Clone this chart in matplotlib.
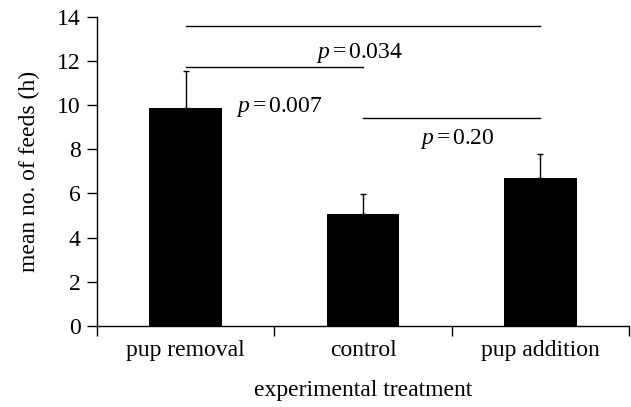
import matplotlib
matplotlib.use("Agg")
import matplotlib.pyplot as plt
import numpy as np

categories = ["pup removal", "control", "pup addition"]
means = [9.85, 5.05, 6.7]
err_upper = [1.7, 0.92, 1.1]
yticks = [0, 2, 4, 6, 8, 10, 12, 14]

# comparisons: (i, j, line height, p label)
comparisons = [(0, 2, 13.57, "0.034"), (0, 1, 11.74, "0.007"), (1, 2, 9.43, "0.20")]
label_pos = [(0.98, 12.35), (0.53, 9.9), (1.53, 8.45)]

plt.rcParams['font.family'] = ['Liberation Serif', 'DejaVu Serif']
plt.rcParams['mathtext.fontset'] = 'custom'
plt.rcParams['mathtext.it'] = 'Liberation Serif:italic'
plt.rcParams['mathtext.rm'] = 'Liberation Serif'

FS = 17
fig = plt.figure(figsize=(6.31, 4.07), dpi=100)
ax = fig.add_axes([0.154, 0.199, 0.843, 0.760])

x = np.arange(len(categories))
ax.bar(x, means, width=0.41, color='black', zorder=2)
ax.errorbar(x, means, yerr=[np.zeros(len(means)), err_upper], fmt='none',
            ecolor='black', elinewidth=1, capsize=2.5, capthick=1, zorder=1)

for (i, j, h, lab), (tx, ty) in zip(comparisons, label_pos):
    ax.plot([x[i], x[j]], [h, h], color='black', lw=1)
    ax.text(tx, ty, r"$p\,$=$\,$" + lab, ha='center', va='center', fontsize=FS)

ax.set_xlim(-0.5, 2.5)
ax.set_ylim(0, 14)
ax.set_yticks(yticks)
ax.set_xticks([-0.5, 0.5, 1.5, 2.5])
ax.set_xticklabels([])
ax.set_xticks(x, minor=True)
ax.set_xticklabels(categories, minor=True)
ax.tick_params(axis='x', which='major', direction='out', length=7, width=1)
ax.tick_params(axis='x', which='minor', length=0, pad=10, labelsize=FS)
ax.tick_params(axis='y', direction='out', length=7, width=1, labelsize=FS, pad=5)
for s in ['top', 'right']:
    ax.spines[s].set_visible(False)
for s in ['left', 'bottom']:
    ax.spines[s].set_linewidth(1)

ax.set_ylabel("mean no. of feeds (h)", fontsize=FS, labelpad=12)
ax.set_xlabel("experimental treatment", fontsize=FS, labelpad=14)

fig.savefig("out.png", dpi=100)
